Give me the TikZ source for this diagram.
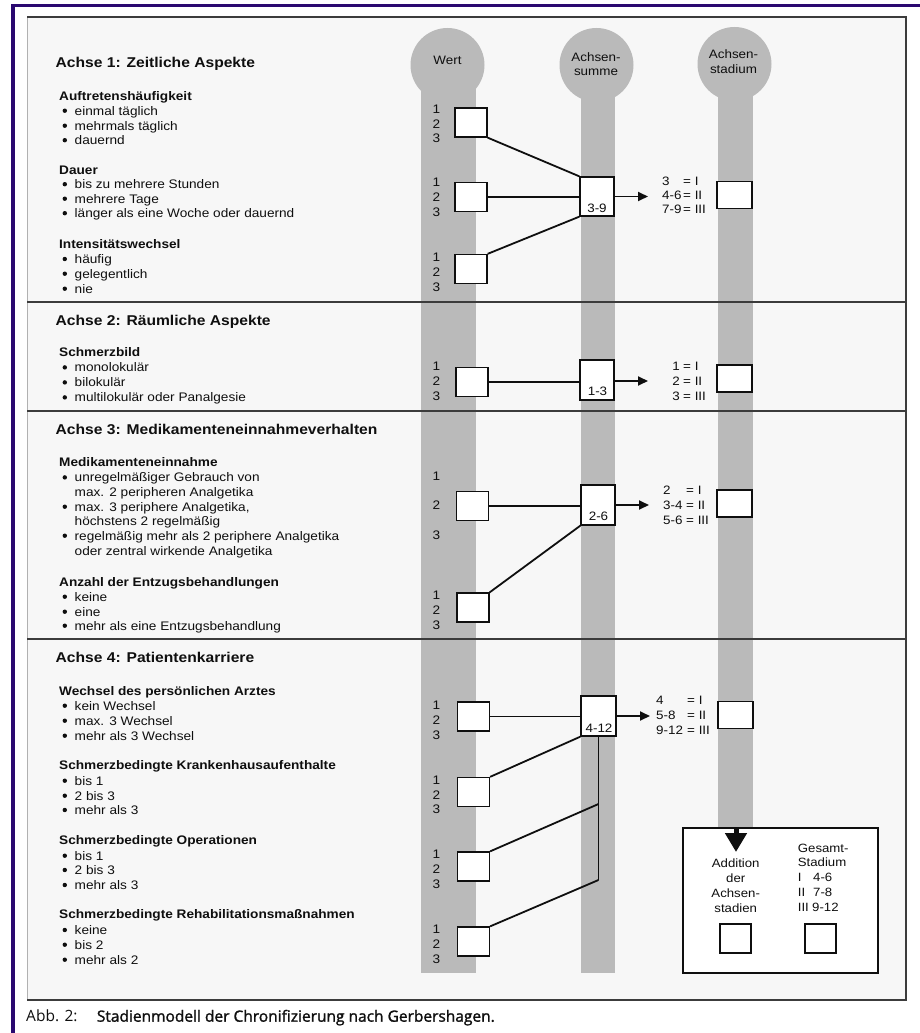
\documentclass[tikz,border=0pt]{standalone}
\usepackage{fontspec}
\setmainfont{Liberation Sans}
\newfontfamily\wide{Liberation Sans}[FakeStretch=1.1]
\newfontfamily\frut{Open Sans}
\newfontfamily\frutb{Open Sans}[FakeBold=1.5]
\usetikzlibrary{arrows.meta}
\definecolor{purp}{RGB}{42,8,112}
\definecolor{barc}{RGB}{186,186,186}
\definecolor{paper}{RGB}{247,247,247}
\definecolor{framec}{RGB}{60,60,60}
\definecolor{ink}{RGB}{15,15,15}
\newcommand\myitem[3]{\fill[ink] (64.8,{#2-4.3}) circle (2.2pt);
  \node[txtitem] (#1) at (74.5,#2) {#3};}
\newcommand\mycont[3]{\node[txtitem] (#1) at (74.5,#2) {#3};}
\newcommand\mysubh[3]{\node[txtsub] (#1) at (59,#2) {#3};}
\newcommand\mynums[4]{%
  \node[txtnum] (#1a) at (436.5,#2) {1};
  \node[txtnum] (#1b) at (436.5,#3) {2};
  \node[txtnum] (#1c) at (436.5,#4) {3};}
\begin{document}
\begin{tikzpicture}[x=1pt,y=-1pt,
  colbar/.style={fill=barc,draw=none},
  valbox/.style={draw=ink,line width=1.3pt,fill=white,minimum width=32pt,minimum height=29pt,inner sep=0pt},
  sumbox/.style={draw=ink,line width=1.3pt,fill=white,minimum width=34pt,minimum height=40pt,inner sep=0pt},
  stbox/.style={draw=ink,line width=1.3pt,fill=white,minimum width=35pt,minimum height=27pt,inner sep=0pt},
  conn/.style={draw=ink,line width=1.8pt},
  arr/.style={conn,-{Triangle[length=10pt,width=9pt]}},
  sepline/.style={draw=framec,line width=1.3pt},
  txthead/.style={font=\wide\fontsize{14.2}{17}\selectfont\bfseries,anchor=base west,inner sep=0pt,text=ink},
  txtsub/.style={font=\wide\fontsize{12.4}{14}\selectfont\bfseries,anchor=base west,inner sep=0pt,text=ink},
  txtitem/.style={font=\wide\fontsize{12.4}{14}\selectfont,anchor=base west,inner sep=0pt,text=ink},
  txtnum/.style={font=\wide\fontsize{12.4}{14}\selectfont,anchor=base,inner sep=0pt,text=ink},
  txtlab/.style={font=\wide\fontsize{12.2}{14}\selectfont,anchor=base,inner sep=0pt,text=ink},
  txtconv/.style={font=\wide\fontsize{12.2}{14}\selectfont,anchor=base west,inner sep=0pt,text=ink},
  txtfr/.style={font=\wide\fontsize{12}{14}\selectfont,inner sep=0pt,text=ink},
]
\useasboundingbox (0,0) rectangle (920,1033);
\fill[white] (0,0) rectangle (920,1033);
% scan frame
\fill[purp] (11,4) rectangle (920,7.5);
\fill[purp] (11,4) rectangle (15,1033);
% paper and frame
\fill[paper] (27,17) rectangle (906,1000);
\draw[framec!40,line width=1pt] (27,17) -- (27,1000);
\draw[framec,line width=1.5pt] (27,17) -- (906,17) -- (906,1000) -- (27,1000);
% columns
\fill[colbar] (421,65) rectangle (475.5,973);
\fill[colbar] (447.5,65) circle (37);
\fill[colbar] (580.5,65) rectangle (615,973);
\fill[colbar] (596.5,65) circle (37);
\fill[colbar] (717.5,64) rectangle (752.5,828);
\fill[colbar] (734.5,64) circle (37);
\node[txtlab] (cwert) at (447.5,65) {Wert};
\node[txtlab] (csum1) at (596,61.7) {Achsen-};
\node[txtlab] (csum2) at (596,76) {summe};
\node[txtlab] (cst1) at (733.5,58.3) {Achsen-};
\node[txtlab] (cst2) at (733.5,73.3) {stadium};
% separators
\draw[sepline] (27,302) -- (906,302);
\draw[sepline] (27,411) -- (906,411);
\draw[sepline] (27,639) -- (906,639);

% ---------- Achse 1
\node[txthead] (h1) at (55.5,67) {Achse 1: Zeitliche Aspekte};
\mysubh{g1}{100}{Auftretenshäufigkeit}
\myitem{g1a}{115}{einmal täglich}
\myitem{g1b}{130}{mehrmals täglich}
\myitem{g1c}{144.5}{dauernd}
\mysubh{g2}{174.7}{Dauer}
\myitem{g2a}{188.5}{bis zu mehrere Stunden}
\myitem{g2b}{203}{mehrere Tage}
\myitem{g2c}{217.5}{länger als eine Woche oder dauernd}
\mysubh{g3}{248.5}{Intensitätswechsel}
\myitem{g3a}{263.3}{häufig}
\myitem{g3b}{278}{gelegentlich}
\myitem{g3c}{293}{nie}
\mynums{n1}{113.3}{128.3}{142.7}
\mynums{n2}{186.7}{201.7}{216}
\mynums{n3}{261.7}{276.7}{291}
\node[valbox] (w1) at (471,122.5) {};
\node[valbox] (w2) at (471,197) {};
\node[valbox] (w3) at (471,269) {};
\node[sumbox,minimum height=39pt] (s1) at (597,196.5) {};
\node[txtlab] (s1l) at (597,212.3) {3-9};
\draw[conn] (w1.south east) -- (s1.north west);
\draw[conn] (w2.east) -- (w2.east -| s1.west);
\draw[conn] (w3.north east) -- (s1.south west);
\coordinate (a1) at (648,196.5);
\draw[arr] (s1.east) -- (a1);
\node[txtconv] (c1a) at (662,185) {3};
\node[txtconv] (c1b) at (662,199.3) {4-6};
\node[txtconv] (c1c) at (662,213.3) {7-9};
\node[txtconv] (e1a) at (683,185) {= I};
\node[txtconv] (e1b) at (683,199.3) {= II};
\node[txtconv] (e1c) at (683,213.3) {= III};
\node[stbox] (t1) at (734.5,195) {};

% ---------- Achse 2
\node[txthead] (h2) at (55.5,325) {Achse 2: Räumliche Aspekte};
\mysubh{g4}{356.7}{Schmerzbild}
\myitem{g4a}{371.7}{monolokulär}
\myitem{g4b}{386.7}{bilokulär}
\myitem{g4c}{401.7}{multilokulär oder Panalgesie}
\mynums{n4}{370}{385}{400}
\node[valbox] (w4) at (472,382) {};
\node[sumbox] (s2) at (597,380) {};
\node[txtlab] (s2l) at (597.5,395) {1-3};
\draw[conn] (w4.east) -- (w4.east -| s2.west);
\coordinate (a2) at (648,381);
\draw[arr] (s2.east |- a2) -- (a2);
\node[txtconv,anchor=base east] (c2a) at (680,370) {1};
\node[txtconv,anchor=base east] (c2b) at (680,385) {2};
\node[txtconv,anchor=base east] (c2c) at (680,400) {3};
\node[txtconv] (e2a) at (683,370) {= I};
\node[txtconv] (e2b) at (683,385) {= II};
\node[txtconv] (e2c) at (683,400) {= III};
\node[stbox] (t2) at (734.5,378.5) {};

% ---------- Achse 3
\node[txthead] (h3) at (55.5,434) {Achse 3: Medikamenteneinnahmeverhalten};
\mysubh{g5}{466.7}{Medikamenteneinnahme}
\myitem{g5a}{481.7}{unregelmäßiger Gebrauch von}
\mycont{g5b}{496}{max. 2 peripheren Analgetika}
\myitem{g5c}{511}{max. 3 periphere Analgetika,}
\mycont{g5d}{525.7}{höchstens 2 regelmäßig}
\myitem{g5e}{540}{regelmäßig mehr als 2 periphere Analgetika}
\mycont{g5f}{555}{oder zentral wirkende Analgetika}
\mysubh{g6}{586.7}{Anzahl der Entzugsbehandlungen}
\myitem{g6a}{601}{keine}
\myitem{g6b}{616}{eine}
\myitem{g6c}{630}{mehr als eine Entzugsbehandlung}
\mynums{n5}{480.7}{509.3}{539.3}
\mynums{n6}{599}{614.3}{629.3}
\node[valbox] (w5) at (472.5,506) {};
\node[valbox] (w6) at (473,607.5) {};
\node[sumbox] (s3) at (598,505) {};
\node[txtlab] (s3l) at (598.5,520) {2-6};
\draw[conn] (w5.east) -- (w5.east -| s3.west);
\draw[conn] (w6.north east) -- (s3.south west);
\coordinate (a3) at (649,505);
\draw[arr] (s3.east) -- (a3);
\node[txtconv] (c3a) at (663,494) {2};
\node[txtconv] (c3b) at (663,509.3) {3-4};
\node[txtconv] (c3c) at (663,524.3) {5-6};
\node[txtconv] (e3a) at (686,494) {= I};
\node[txtconv] (e3b) at (686,509.3) {= II};
\node[txtconv] (e3c) at (686,524.3) {= III};
\node[stbox] (t3) at (734.5,503.5) {};

% ---------- Achse 4
\node[txthead] (h4) at (55.5,662.7) {Achse 4: Patientenkarriere};
\mysubh{g7}{695}{Wechsel des persönlichen Arztes}
\myitem{g7a}{710}{kein Wechsel}
\myitem{g7b}{725}{max. 3 Wechsel}
\myitem{g7c}{740}{mehr als 3 Wechsel}
\mysubh{g8}{769.3}{Schmerzbedingte Krankenhausaufenthalte}
\myitem{g8a}{785}{bis 1}
\myitem{g8b}{800}{2 bis 3}
\myitem{g8c}{814.3}{mehr als 3}
\mysubh{g9}{844}{Schmerzbedingte Operationen}
\myitem{g9a}{860}{bis 1}
\myitem{g9b}{874.3}{2 bis 3}
\myitem{g9c}{889.3}{mehr als 3}
\mysubh{g10}{918.3}{Schmerzbedingte Rehabilitationsmaßnahmen}
\myitem{g10a}{934.3}{keine}
\myitem{g10b}{949}{bis 2}
\myitem{g10c}{964}{mehr als 2}
\mynums{n7}{709.3}{724}{739.3}
\mynums{n8}{784}{799}{813.3}
\mynums{n9}{858.3}{873.3}{888.3}
\mynums{n10}{933.3}{948.3}{963.3}
\node[valbox] (w7) at (473.5,716.5) {};
\node[valbox] (w8) at (473.5,792) {};
\node[valbox] (w9) at (473.5,866.5) {};
\node[valbox] (w10) at (473.5,941.5) {};
\node[sumbox,minimum width=35pt] (s4) at (598.5,716) {};
\node[txtlab] (s4l) at (599,732.7) {4-12};
\coordinate (v1) at (598.5,804);
\coordinate (v2) at (598.5,880);
\draw[conn] (w7.east) -- (w7.east -| s4.west);
\draw[conn] (w8.north east) -- (s4.south west);
\draw[conn] (s4.south) -- (v2);
\draw[conn] (w9.north east) -- (v1);
\draw[conn] (w10.north east) -- (v2);
\coordinate (a4) at (650,716);
\draw[arr] (s4.east) -- (a4);
\node[txtconv] (c4a) at (656,704) {4};
\node[txtconv] (c4b) at (656,719.3) {5-8};
\node[txtconv] (c4c) at (656,734) {9-12};
\node[txtconv] (e4a) at (687,704) {= I};
\node[txtconv] (e4b) at (687,719.3) {= II};
\node[txtconv] (e4c) at (687,734) {= III};
\node[stbox] (t4) at (735.5,715) {};

% ---------- final box
\node[draw=ink,line width=1.3pt,fill=white,minimum width=195pt,minimum height=145pt,inner sep=0pt] (fb) at (780.5,900.5) {};
\coordinate (bt) at (736,852);
\draw[draw=ink,line width=5pt,-{Triangle[length=19pt,width=21pt]}] (bt |- fb.north) -- (bt);
\node[txtfr,anchor=base] (ad1) at (735.7,867.7) {Addition};
\node[txtfr,anchor=base] (ad2) at (735.7,882.7) {der};
\node[txtfr,anchor=base] (ad3) at (735.7,897.7) {Achsen-};
\node[txtfr,anchor=base] (ad4) at (735.7,912.3) {stadien};
\node[txtfr,anchor=base west] (gs1) at (797.7,852.3) {Gesamt-};
\node[txtfr,anchor=base west] (gs2) at (797.7,866.7) {Stadium};
\node[txtfr,anchor=base west] (gs3) at (797.7,881.7) {I};
\node[txtfr,anchor=base west] (gs4) at (797.7,896.7) {II};
\node[txtfr,anchor=base west] (gs5) at (797.7,911.7) {III};
\node[txtfr,anchor=base west] (gs6) at (813,881.7) {4-6};
\node[txtfr,anchor=base west] (gs7) at (813,896.7) {7-8};
\node[txtfr,anchor=base west] (gs8) at (812,911.7) {9-12};
\node[valbox,minimum width=31pt] (fl) at (735.5,938.5) {};
\node[valbox,minimum width=31pt] (fr) at (820.5,938.5) {};

% caption
\node[font=\frut\fontsize{15.5}{17}\selectfont,anchor=base west,inner sep=0pt,text=ink] (cap1) at (26,1021.7) {Abb. 2:};
\node[font=\frutb\fontsize{15.5}{17}\selectfont,anchor=base west,inner sep=0pt,text=ink] (cap2) at (96.7,1021.7) {Stadienmodell der Chronifizierung nach Gerbershagen.};
\end{tikzpicture}
\end{document}
